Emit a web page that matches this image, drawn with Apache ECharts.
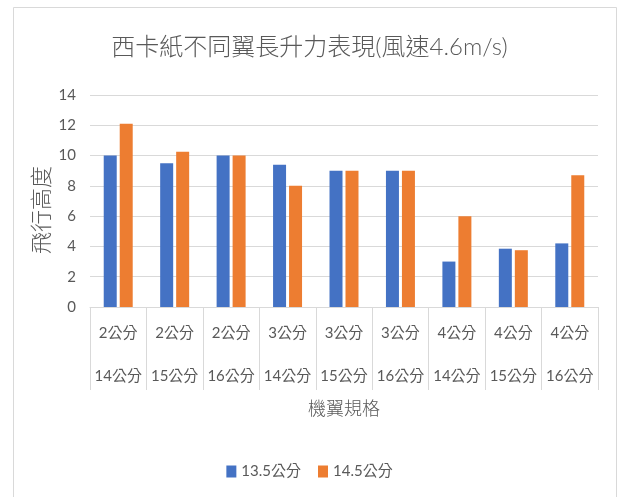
<!DOCTYPE html>
<html>
<head>
<meta charset="utf-8">
<script src="https://cdn.jsdelivr.net/npm/echarts@6/dist/echarts.min.js"></script>
<style>
  html, body { margin: 0; padding: 0; background: #fff; }
  #chart { width: 619px; height: 497px; }
</style>
</head>
<body>
<div id="chart"></div>
<script>
// Wing span (first line) and wing length (second line) for each model
const spanLabels = ['2公分', '2公分', '2公分', '3公分', '3公分', '3公分', '4公分', '4公分', '4公分'];
const lengthLabels = ['14公分', '15公分', '16公分', '14公分', '15公分', '16公分', '14公分', '15公分', '16公分'];

// Flight height for each wing width
const seriesNames = ['13.5公分', '14.5公分'];
const height135 = [10, 9.5, 10, 9.4, 9, 9, 3, 3.85, 4.2];
const height145 = [12.1, 10.25, 10, 8, 9, 9, 6, 3.75, 8.7];

const yTicks = { min: 0, max: 14, interval: 2 };

const FONT = "Lato, 'Noto Sans CJK TC', sans-serif";
const TEXT = '#595959';
const LINE = '#d9d9d9';

const categories = spanLabels.map((s, i) => s + '\n' + lengthLabels[i]);

const chart = echarts.init(document.getElementById('chart'), null, { renderer: 'canvas' });
chart.setOption({
  backgroundColor: '#ffffff',
  animation: false,
  textStyle: { fontFamily: FONT },
  title: {
    text: '西卡紙不同翼長升力表現(風速4.6m/s)',
    left: 'center',
    top: 30,
    textStyle: { fontFamily: FONT, fontSize: 24, fontWeight: 300, color: TEXT }
  },
  graphic: [{
    type: 'rect',
    shape: { x: 13.5, y: 7.5, width: 603, height: 500 },
    style: { fill: 'none', stroke: LINE, lineWidth: 1 },
    silent: true,
    z: -1
  }],
  legend: {
    data: seriesNames,
    bottom: 13,
    left: 'center',
    icon: 'rect',
    itemWidth: 10,
    itemHeight: 12,
    itemGap: 17,
    textStyle: { fontFamily: FONT, fontSize: 15, color: TEXT }
  },
  grid: { left: 90, right: 21, top: 95, height: 212, containLabel: false },
  xAxis: {
    type: 'category',
    data: categories,
    name: '機翼規格',
    nameLocation: 'middle',
    nameGap: 93,
    nameMoveOverlap: false,
    nameTextStyle: { fontFamily: FONT, fontSize: 18, fontWeight: 300, color: TEXT },
    axisLine: { lineStyle: { color: LINE } },
    axisTick: { show: true, interval: 0, length: 83, lineStyle: { color: LINE } },
    axisLabel: {
      interval: 0,
      margin: 5,
      fontFamily: FONT,
      fontSize: 15,
      lineHeight: 43,
      color: TEXT
    }
  },
  yAxis: {
    type: 'value',
    min: yTicks.min,
    max: yTicks.max,
    interval: yTicks.interval,
    name: '飛行高度',
    nameLocation: 'middle',
    nameRotate: 90,
    nameGap: 37,
    nameMoveOverlap: false,
    nameTextStyle: { fontFamily: FONT, fontSize: 22, fontWeight: 300, color: TEXT, padding: [0, 18, 0, 0] },
    axisLine: { show: false },
    axisTick: { show: false },
    axisLabel: { margin: 14, fontFamily: FONT, fontSize: 15, color: TEXT },
    splitLine: { lineStyle: { color: LINE } }
  },
  series: [
    {
      name: seriesNames[0],
      type: 'bar',
      data: height135,
      barWidth: 13,
      barGap: '23%',
      itemStyle: { color: '#4472c4' }
    },
    {
      name: seriesNames[1],
      type: 'bar',
      data: height145,
      barWidth: 13,
      itemStyle: { color: '#ed7d31' }
    }
  ]
});
</script>
</body>
</html>
